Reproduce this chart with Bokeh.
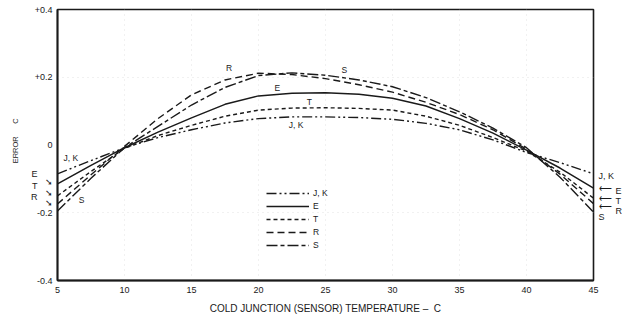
from bokeh.plotting import figure
from bokeh.models import Legend, LegendItem, Label, LinearAxis, FixedTicker
from bokeh.embed import file_html
from bokeh.resources import INLINE

# ---- data ----
temps = [5, 7.5, 10, 12.5, 15, 17.5, 20, 22.5, 25, 27.5, 30, 32.5, 35, 37.5, 40, 42.5, 45]
err_jk = [-0.085, -0.046, -0.008, 0.022, 0.045, 0.065, 0.078, 0.083, 0.083, 0.081, 0.076, 0.064, 0.045, 0.015, -0.022, -0.052, -0.085]
err_e = [-0.115, -0.060, -0.008, 0.038, 0.080, 0.120, 0.145, 0.153, 0.154, 0.150, 0.138, 0.115, 0.078, 0.035, -0.015, -0.068, -0.127]
err_t = [-0.150, -0.078, -0.010, 0.028, 0.058, 0.085, 0.103, 0.109, 0.110, 0.108, 0.103, 0.085, 0.058, 0.022, -0.018, -0.080, -0.157]
err_r = [-0.174, -0.088, -0.004, 0.078, 0.148, 0.192, 0.212, 0.208, 0.196, 0.178, 0.156, 0.126, 0.090, 0.045, -0.012, -0.086, -0.173]
err_s = [-0.195, -0.098, -0.008, 0.055, 0.118, 0.170, 0.205, 0.213, 0.206, 0.192, 0.172, 0.140, 0.098, 0.050, -0.008, -0.095, -0.198]

series_names = ["J, K", "E", "T", "R", "S"]
x_ticks = [5, 10, 15, 20, 25, 30, 35, 40, 45]
y_ticks = [-0.4, -0.2, 0, 0.2, 0.4]
y_tick_labels = ["-0.4", "-0.2", "0", "+0.2", "+0.4"]

FONT = "Liberation Sans"
INK = "#1a1a1a"
NB = "\u00a0"

p = figure(width=624, height=316, x_range=(5, 45), y_range=(-0.4, 0.4),
           output_backend="svg", toolbar_location=None,
           min_border_left=57, min_border_right=30, min_border_top=9, min_border_bottom=36)
p.background_fill_color = "white"
p.border_fill_color = "white"
p.outline_line_color = INK
p.outline_line_width = 1.6


def style_axis(ax, size="9px"):
    ax.major_tick_out = 0
    ax.major_tick_in = 0
    ax.minor_tick_out = 0
    ax.minor_tick_in = 0
    ax.minor_tick_line_color = None
    ax.major_label_text_font = FONT
    ax.major_label_text_font_size = size
    ax.major_label_text_color = INK
    ax.axis_label_text_font = FONT
    ax.axis_label_text_font_size = "10px"
    ax.axis_label_text_font_style = "normal"
    ax.axis_label_text_color = INK
    ax.axis_label_standoff = 0


for ax in (p.xaxis[0], p.yaxis[0]):
    style_axis(ax)
    ax.axis_line_color = INK
    ax.axis_line_width = 1.8

p.xaxis.ticker = FixedTicker(ticks=x_ticks)
p.xaxis.major_label_standoff = 6
p.xaxis.axis_label = "COLD JUNCTION (SENSOR) TEMPERATURE \u2013" + NB + NB + "C"
p.xaxis.axis_label_standoff = 7

# main y axis: numeric ticks plus the arrow marks that point at the left curve ends
left_arrow_pos = [-0.109, -0.141, -0.171]
p.yaxis.ticker = FixedTicker(ticks=y_ticks + left_arrow_pos)
ov = {v: t for v, t in zip(y_ticks, y_tick_labels)}
ov.update({v: "\u2798" for v in left_arrow_pos})
p.yaxis.major_label_overrides = ov
p.yaxis.major_label_standoff = 5

# outer left axis: curve letters + axis title
left_letter_pos = [-0.085, -0.121, -0.153]
ax_l = LinearAxis(ticker=FixedTicker(ticks=left_letter_pos),
                  major_label_overrides={v: t for v, t in zip(left_letter_pos, ["E", "T", "R"])})
style_axis(ax_l)
ax_l.axis_line_color = None
ax_l.major_label_standoff = -6
ax_l.axis_label = NB * 4 + "ERROR" + NB * 6 + "C"
ax_l.axis_label_text_font_size = "7.5px"
ax_l.axis_label_standoff = 8
p.add_layout(ax_l, "left")

# right side: J, K / arrows / S next to the frame, then E, T, R letters
right_pos_a = [-0.091, -0.126, -0.156, -0.180, -0.213]
ax_ra = LinearAxis(ticker=FixedTicker(ticks=right_pos_a),
                   major_label_overrides={v: t for v, t in zip(right_pos_a, ["J, K", "\u27f5", "\u27f5", "\u27f5", "S"])})
style_axis(ax_ra)
ax_ra.axis_line_color = None
ax_ra.major_label_standoff = 5
p.add_layout(ax_ra, "right")

right_pos_b = [-0.135, -0.165, -0.195]
ax_rb = LinearAxis(ticker=FixedTicker(ticks=right_pos_b),
                   major_label_overrides={v: t for v, t in zip(right_pos_b, ["E", "T", "R"])})
style_axis(ax_rb)
ax_rb.axis_line_color = None
ax_rb.major_label_standoff = -2
p.add_layout(ax_rb, "right")

p.xgrid.ticker = FixedTicker(ticks=x_ticks[1:-1])
p.ygrid.ticker = FixedTicker(ticks=[-0.2, 0.2])
for g in (p.xgrid[0], p.ygrid[0]):
    g.grid_line_color = "#cfcfcf"
    g.grid_line_dash = "1 4"
    g.grid_line_alpha = 0.6

styles = {
    "J, K": dict(line_dash="10 3 2 3 2 3", line_width=1.4),
    "E": dict(line_dash="solid", line_width=1.5),
    "T": dict(line_dash="4 3", line_width=1.4),
    "R": dict(line_dash="7 4", line_width=1.4),
    "S": dict(line_dash="11 3 4 3", line_width=1.4),
}
data = {"J, K": err_jk, "E": err_e, "T": err_t, "R": err_r, "S": err_s}

items = []
for name in series_names:
    r = p.line(temps, data[name], line_color=INK, **styles[name])
    items.append(LegendItem(label=name, renderers=[r]))

legend = Legend(items=items, location=(209, 30),
                glyph_width=43, glyph_height=10, spacing=3, label_standoff=4,
                padding=0, margin=0, border_line_color=None,
                background_fill_alpha=0,
                label_text_font=FONT, label_text_font_size="8.5px",
                label_text_color=INK, label_height=10)
p.add_layout(legend, "center")


def lab(x, y, t):
    p.add_layout(Label(x=x, y=y, text=t, text_font=FONT, text_font_size="8.5px",
                       text_color=INK, text_align="center", text_baseline="middle"))


# curve labels inside the frame
lab(17.8, 0.228, "R")
lab(26.4, 0.222, "S")
lab(21.4, 0.168, "E")
lab(23.8, 0.126, "T")
lab(22.8, 0.058, "J, K")
lab(6.0, -0.037, "J, K")
lab(6.8, -0.162, "S")

open("out.html", "w").write(file_html(p, INLINE))
